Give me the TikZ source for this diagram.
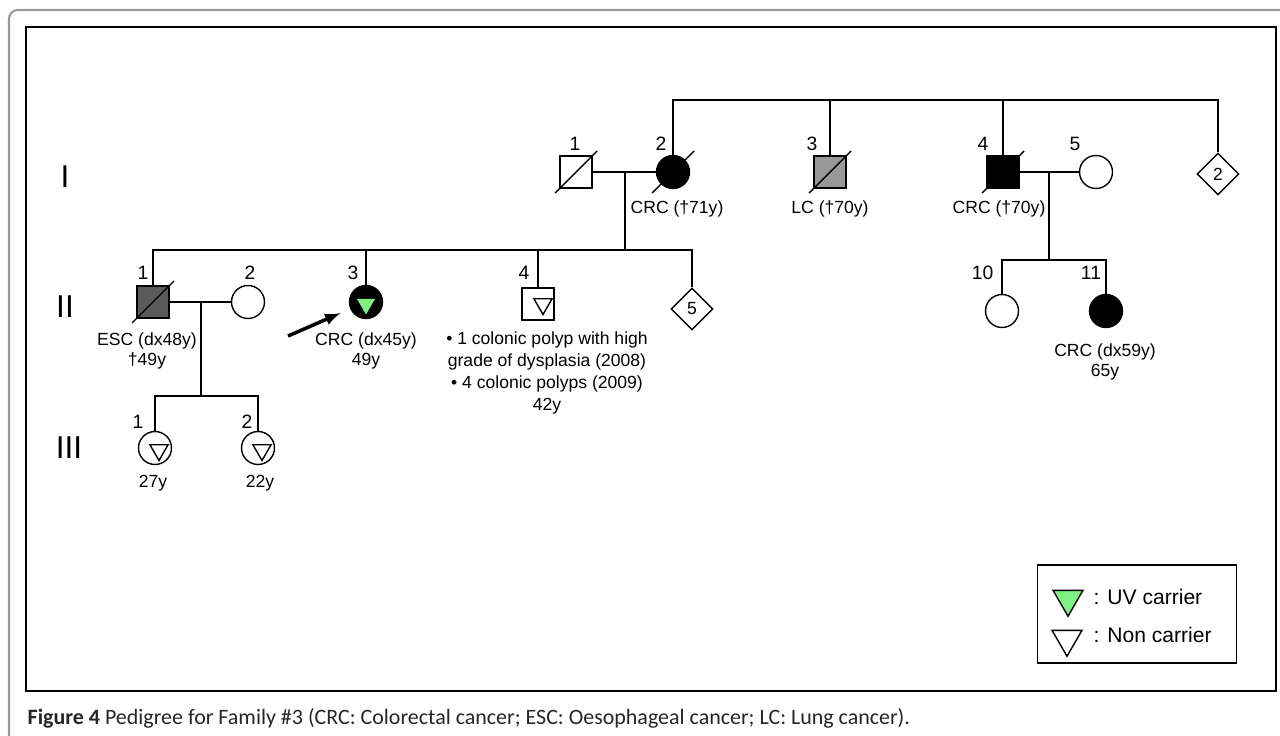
\documentclass[tikz,border=0pt]{standalone}
\usepackage{fontspec}
\setmainfont{Liberation Sans}
\newfontfamily\didafont{Carlito}
\usetikzlibrary{shapes.geometric}

\definecolor{verdeUV}{RGB}{128,240,128}
\definecolor{grigio}{RGB}{153,153,153}
\definecolor{grigioscuro}{RGB}{90,90,90}

\tikzset{
  maschio/.style={rectangle, draw, minimum size=0.64cm, inner sep=0pt},
  femmina/.style={circle, draw, minimum size=0.66cm, inner sep=0pt},
  ignoto/.style={diamond, draw, minimum size=0.84cm, inner sep=0pt, font=\fontsize{10}{12}\selectfont},
  triang/.style={regular polygon, regular polygon sides=3, shape border rotate=180, minimum size=0.42cm, inner sep=0pt},
  numero/.style={inner sep=0pt, font=\fontsize{11}{12}\selectfont},
  testo/.style={inner sep=0pt, align=center, font=\fontsize{10}{11}\selectfont},
  generazione/.style={inner sep=0pt, font=\fontsize{18}{20}\selectfont},
}

% barra dei deceduti
\newcommand{\deceduto}[1]{\draw (#1.center) ++(-21,21) -- ++(42,-42);}

\begin{document}
\begin{tikzpicture}[x=0.02cm, y=-0.02cm, line width=0.8pt]
    \useasboundingbox (0,0) rectangle (1280,736);

    % Cornici
    \draw[black!40, line width=1.2pt, rounded corners=5pt] (1290,10) -- (9,10) -- (9,750);
    \draw[line width=1pt] (26,27) rectangle (1276,691);

    % Generazioni
    \node[generazione] (genI) at (65,177) {I};
    \node[generazione] (genII) at (65,307) {II};
    \node[generazione] (genIII) at (69,448) {III};

    % Generazione I
    \node[maschio] (I1) at (576,172) {};
    \node[femmina, fill=black] (I2) at (673,172) {};
    \node[maschio, fill=grigio] (I3) at (830,172) {};
    \node[maschio, fill=black] (I4) at (1003,172) {};
    \node[femmina] (I5) at (1096,172) {};
    \node[ignoto] (D2) at (1218,174) {2};

    \node[numero] (nI1) at (575,144) {1};
    \node[numero] (nI2) at (661,144) {2};
    \node[numero] (nI3) at (812,144) {3};
    \node[numero] (nI4) at (983,144) {4};
    \node[numero] (nI5) at (1075,144) {5};

    \node[testo] (tI2) at (677,209) {CRC (†71y)};
    \node[testo] (tI3) at (830,209) {LC (†70y)};
    \node[testo] (tI4) at (999,209) {CRC (†70y)};

    % Generazione II
    \node[maschio, fill=grigioscuro] (II1) at (153,302) {};
    \node[femmina] (II2) at (248,302) {};
    \node[femmina, fill=black] (II3) at (366,302) {};
    \node[maschio] (II4) at (538,304) {};
    \node[ignoto] (D5) at (692,309) {5};
    \node[femmina] (II10) at (1002,311) {};
    \node[femmina, fill=black] (II11) at (1106,311) {};

    \node[triang, fill=verdeUV] (vII3) at (366,304) {};
    \node[triang, draw, fill=white] (vII4) at (543,304) {};

    \node[numero] (nII1) at (143,273) {1};
    \node[numero] (nII2) at (250,273) {2};
    \node[numero] (nII3) at (353,273) {3};
    \node[numero] (nII4) at (524,273) {4};
    \node[numero, anchor=east] (nII10) at (994,273) {10};
    \node[numero] (nII11) at (1091,273) {11};

    \node[testo] (tII1) at (147,351) {ESC (dx48y)\\†49y};
    \node[testo] (tII3) at (366,351) {CRC (dx45y)\\49y};
    \node[testo, font=\fontsize{10}{12.5}\selectfont] (tII4) at (547,373)
        {• 1 colonic polyp with high\\grade of dysplasia (2008)\\• 4 colonic polyps (2009)\\42y};
    \node[testo] (tII11) at (1105,362) {CRC (dx59y)\\65y};

    % Generazione III
    \node[femmina] (III1) at (155,448) {};
    \node[femmina] (III2) at (258,448) {};
    \node[triang, draw, fill=white] (vIII1) at (159,450) {};
    \node[triang, draw, fill=white] (vIII2) at (262,450) {};

    \node[numero] (nIII1) at (138,422) {1};
    \node[numero] (nIII2) at (247,422) {2};
    \node[testo] (tIII1) at (153,483) {27y};
    \node[testo] (tIII2) at (260,483) {22y};

    % Punti di raccordo
    \coordinate (sI) at (900,100);
    \coordinate (mI12) at (625,172);
    \coordinate (sII) at (625,250);
    \coordinate (mI45) at (1049,172);
    \coordinate (s1011) at (1049,260);
    \coordinate (mII12) at (201,302);
    \coordinate (sIII) at (201,396);
    \coordinate (proband) at (288,336);

    % Linee
    \draw (I2.north) |- (sI) -| (D2.north);
    \draw (I3.north) -- (I3.north |- sI);
    \draw (I4.north) -- (I4.north |- sI);
    \draw (I1) -- (I2);
    \draw (I4) -- (I5);
    \draw (mI12) -- (sII);
    \draw (II1.north) |- (sII) -| (D5.north);
    \draw (II3.north) -- (II3.north |- sII);
    \draw (II4.north) -- (II4.north |- sII);
    \draw (mI45) -- (s1011);
    \draw (II10.north) |- (s1011) -| (II11.north);
    \draw (II1) -- (II2);
    \draw (mII12) -- (sIII);
    \draw (III1.north) |- (sIII) -| (III2.north);

    % Deceduti
    \deceduto{I1}
    \deceduto{I2}
    \deceduto{I3}
    \deceduto{I4}
    \deceduto{II1}

    % Probando
    \draw[-latex, line width=2pt, shorten >=6pt] (proband) -- (II3);

    % Legenda
    \node[draw, minimum width=3.98cm, minimum height=1.96cm, inner sep=0pt] (legenda) at (1137,614) {};
    \node[triang, draw, fill=verdeUV, minimum size=0.69cm] (lUV) at (1068,599) {};
    \node[triang, draw, fill=white, minimum size=0.69cm] (lNC) at (1067,639) {};
    \node[anchor=west, inner sep=0pt, font=\fontsize{12}{14}\selectfont] (tUV) at (1093,597) {: UV carrier};
    \node[anchor=west, inner sep=0pt, font=\fontsize{12}{14}\selectfont] (tNC) at (1093,635) {: Non carrier};

    % Didascalia
    \node[anchor=west, inner sep=0pt, text=black!85, font=\didafont\fontsize{12.5}{14}\selectfont] (didascalia) at (27,718)
        {\textbf{Figure 4} Pedigree for Family \#3 (CRC: Colorectal cancer; ESC: Oesophageal cancer; LC: Lung cancer).};
\end{tikzpicture}
\end{document}
